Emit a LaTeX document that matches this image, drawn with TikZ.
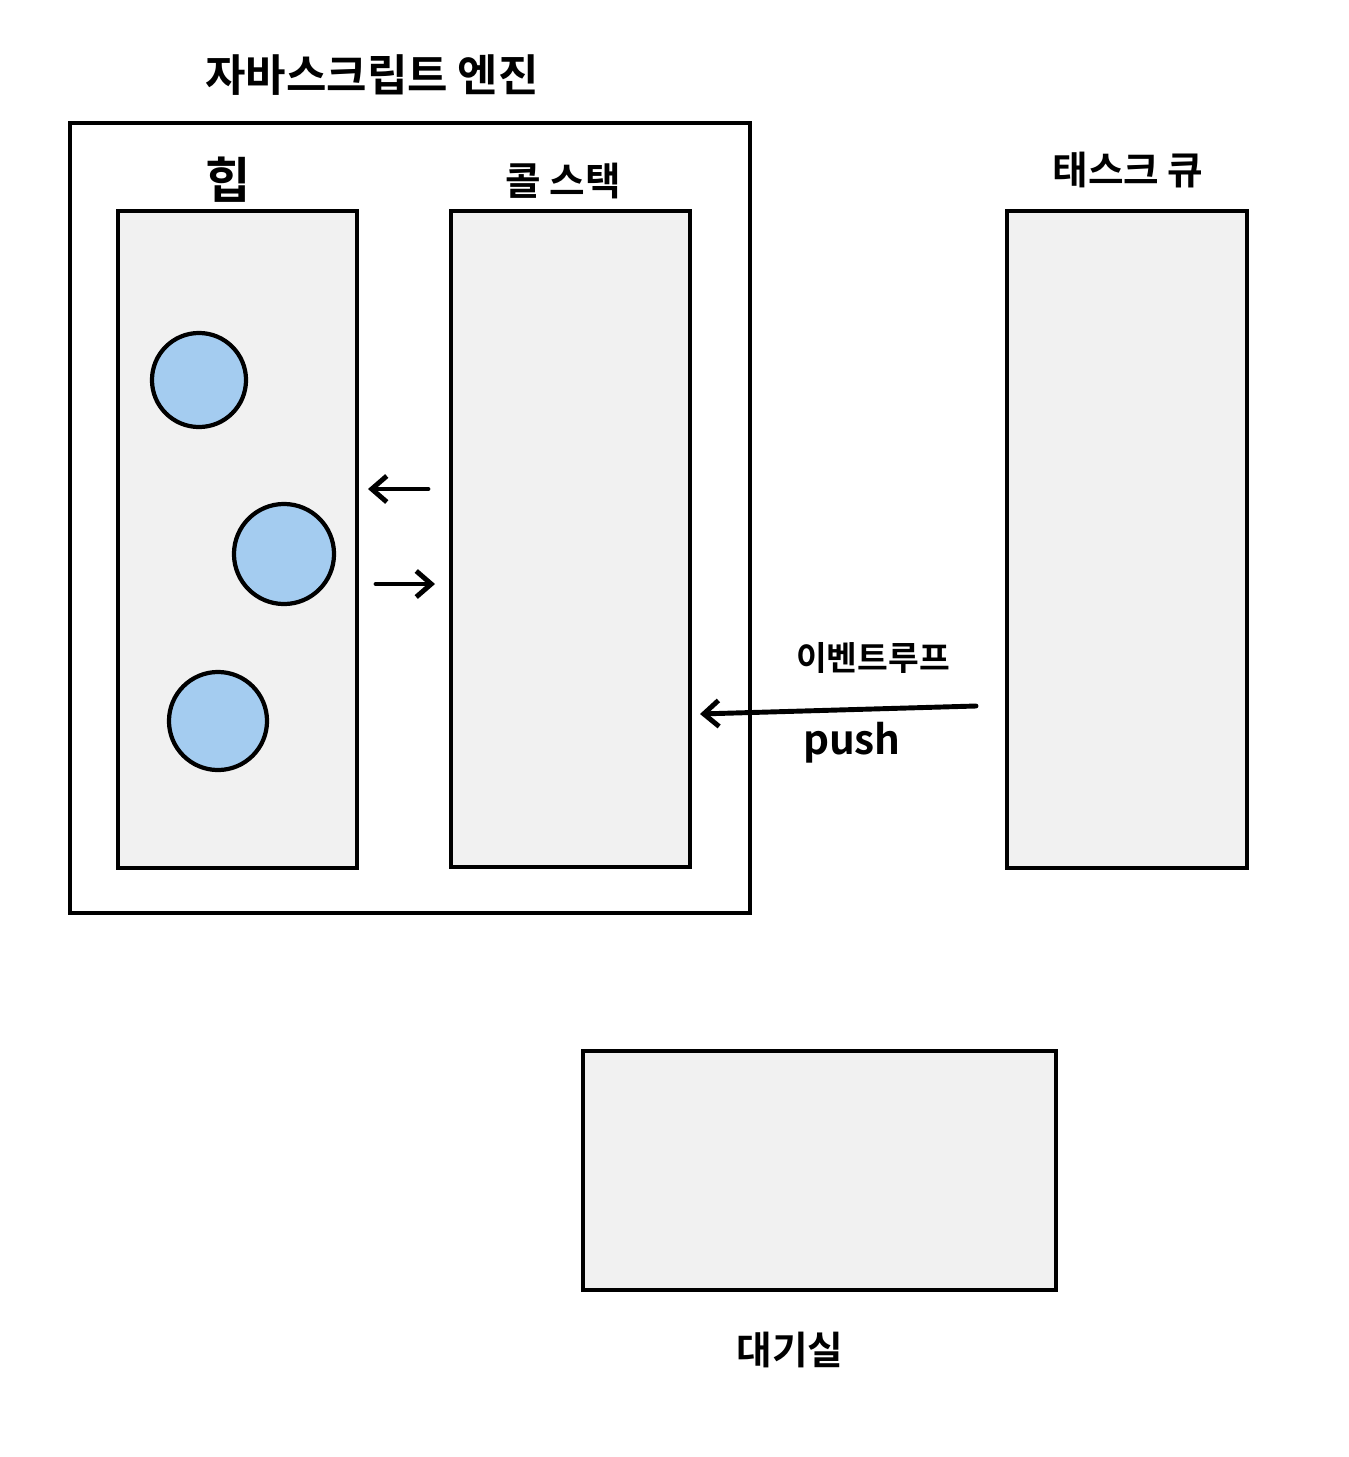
\documentclass[tikz,border=0pt]{standalone}
\usepackage{fontspec}
\setmainfont{Noto Sans CJK KR Bold}
\usetikzlibrary{arrows.meta, positioning}
\definecolor{paper}{RGB}{241, 241, 241}
\definecolor{blob}{RGB}{164, 204, 240}

\begin{document}
\begin{tikzpicture}[x=0.01cm, y=-0.01cm,
    box/.style={draw, line width=1.2pt, fill=paper, inner sep=0pt, outer sep=0pt},
    heapobj/.style={circle, draw, line width=1.2pt, fill=blob, inner sep=0pt},
    tag/.style={inner sep=0pt},
    flow/.style={line width=1.4pt, line cap=round, -{Straight Barb[length=1.5mm, width=2.6mm, line width=1.4pt]}}]
    \useasboundingbox (0,0) rectangle (1349,1457);

    % Engine
    \node[draw, line width=1.2pt, inner sep=0pt, minimum width=6.80cm, minimum height=7.90cm]
        (engine) at (410,518) {};
    \node[tag, font=\fontsize{12.5}{15}\selectfont] (enginetag) at (372,75) {자바스크립트 엔진};

    % Heap
    \node[box, minimum width=2.39cm, minimum height=6.57cm] (heap) at (237.5,539.5) {};
    \node[tag, font=\fontsize{14}{16}\selectfont] (heaptag) at (228,180) {힙};
    \node[heapobj, minimum size=0.94cm] (obja) at (199,380) {};
    \node[heapobj, minimum size=1.00cm] (objb) at (284,554) {};
    \node[heapobj, minimum size=0.98cm] (objc) at (218,721) {};

    % Call stack
    \node[box, minimum width=2.39cm, minimum height=6.56cm] (stack) at (570.5,539) {};
    \node[tag, font=\fontsize{11}{13}\selectfont] (stacktag) at (563,181) {콜 스택};

    % Heap <-> stack
    \coordinate (toheapa) at (428,489);
    \coordinate (toheapb) at (368,489);
    \coordinate (tostacka) at (376,584);
    \coordinate (tostackb) at (435,584);
    \draw[flow] (toheapa) -- (toheapb);
    \draw[flow] (tostacka) -- (tostackb);

    % Task queue
    \node[box, minimum width=2.40cm, minimum height=6.57cm] (queue) at (1127,539.5) {};
    \node[tag, font=\fontsize{11}{13}\selectfont] (queuetag) at (1128,170) {태스크 큐};

    % Event loop
    \coordinate (loopa) at (976,706);
    \coordinate (loopb) at (700,714);
    \draw[flow] (loopa) -- (loopb);
    \node[tag, font=\fontsize{9.5}{11}\selectfont] (looptag) at (873,658) {이벤트루프};
    \node[tag, font=\fontsize{11.5}{14}\selectfont] (pushtag) at (852,743) {push};

    % Waiting room
    \node[box, minimum width=4.73cm, minimum height=2.39cm] (wait) at (819.5,1170.5) {};
    \node[tag, font=\fontsize{11}{13}\selectfont] (waittag) at (790,1350) {대기실};
\end{tikzpicture}
\end{document}
